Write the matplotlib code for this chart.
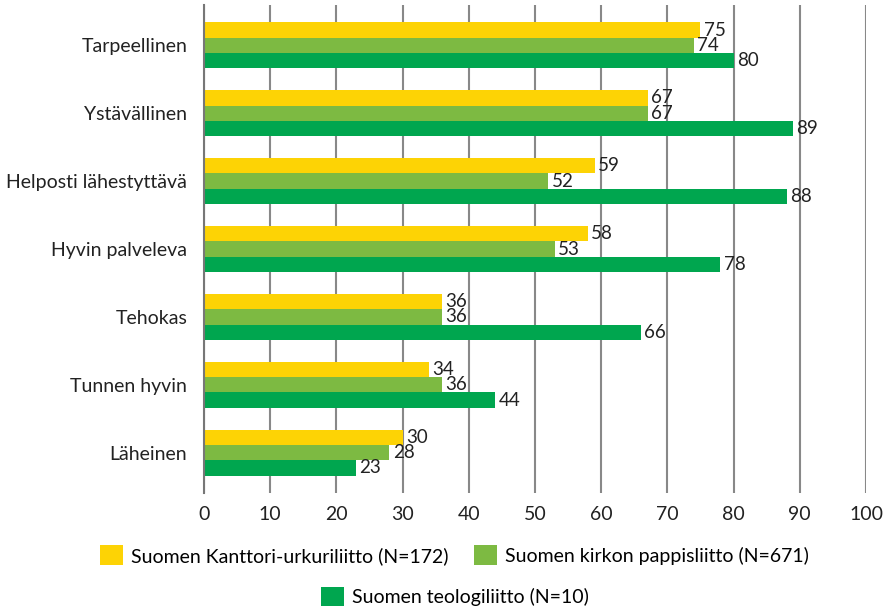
import numpy as np
import matplotlib.pyplot as plt

categories = ["Tarpeellinen", "Ystävällinen", "Helposti lähestyttävä",
              "Hyvin palveleva", "Tehokas", "Tunnen hyvin", "Läheinen"]
series_names = ["Suomen Kanttori-urkuriliitto (N=172)",
                "Suomen kirkon pappisliitto (N=671)",
                "Suomen teologiliitto (N=10)"]
kanttori = [75, 67, 59, 58, 36, 34, 30]
pappis = [74, 67, 52, 53, 36, 36, 28]
teologi = [80, 89, 88, 78, 66, 44, 23]
x_ticks = [0, 10, 20, 30, 40, 50, 60, 70, 80, 90, 100]

colors = ["#FDD305", "#7DBA42", "#00A64F"]

plt.rcParams["font.family"] = ["Lato", "DejaVu Sans"]

fig = plt.figure(figsize=(8.86, 6.10), dpi=100)
ax = fig.add_axes([0.2302, 0.1918, 0.7472, 0.8000])

y = np.arange(len(categories))
h = 0.222
for k, (vals, col, name) in enumerate(zip([kanttori, pappis, teologi], colors, series_names)):
    pos = y + (k - 1) * h
    ax.barh(pos, vals, height=h, color=col, label=name, zorder=3)
    for p, v in zip(pos, vals):
        ax.text(v + 0.5, p, str(v), va="center", ha="left", fontsize=13.5,
                color="#222222", zorder=4)

ax.set_ylim(len(categories) - 1 + 0.59, -0.59)
ax.set_xlim(0, 100)
ax.set_xticks(x_ticks)
ax.set_yticks(y)
ax.set_yticklabels(categories, fontsize=14, color="#222222")
ax.tick_params(axis="x", labelsize=14, colors="#222222", length=0, pad=9)
ax.tick_params(axis="y", length=0, pad=12)
ax.grid(axis="x", color="#888888", linewidth=1.5, zorder=0)
for s in ["top", "right", "bottom"]:
    ax.spines[s].set_visible(False)
ax.spines["left"].set_color("#777777")
ax.spines["left"].set_linewidth(1.5)
ax.spines["left"].set_zorder(5)

handles, labels = ax.get_legend_handles_labels()
leg_kw = dict(frameon=False, fontsize=14, handlelength=1.18, handleheight=1.18,
              handletextpad=0.41)
fig.legend(handles[:2], labels[:2], loc="center", bbox_to_anchor=(0.513, 0.09),
           ncol=2, columnspacing=1.34, **leg_kw)
fig.legend(handles[2:], labels[2:], loc="center", bbox_to_anchor=(0.513, 0.022),
           **leg_kw)

fig.savefig("out.png", dpi=100)
